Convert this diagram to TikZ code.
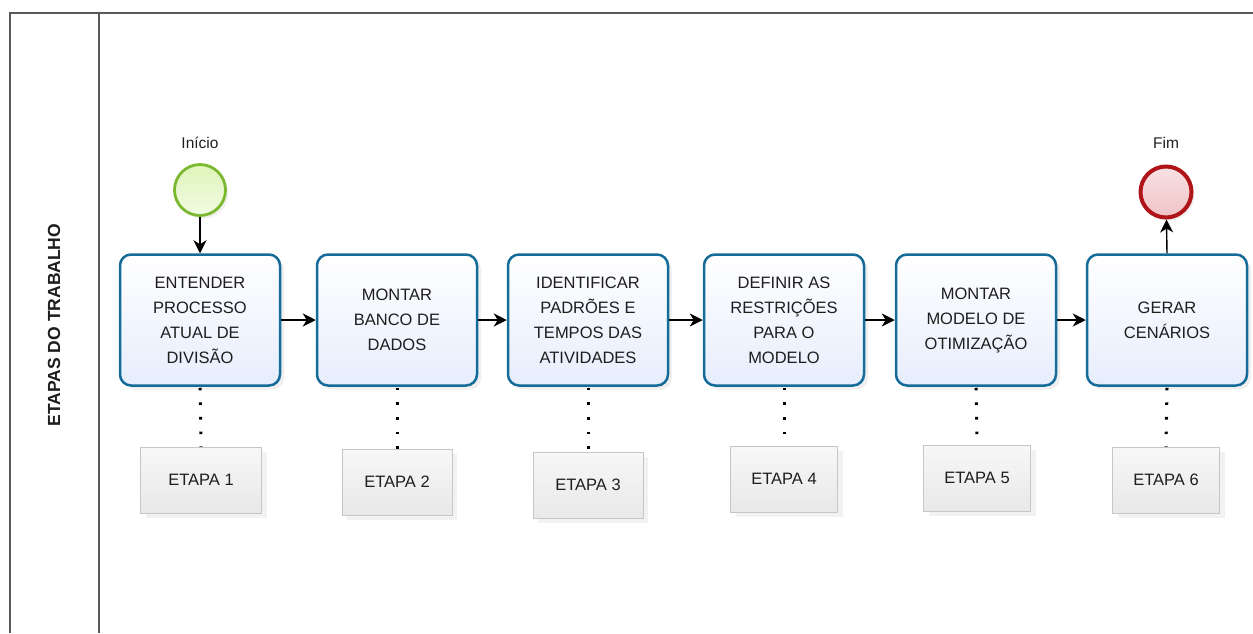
\documentclass[tikz,border=0pt]{standalone}
\usepackage{fontspec}
\setmainfont{Liberation Sans}
\usetikzlibrary{shadows,arrows.meta}
\definecolor{bordaazul}{RGB}{22,108,152}
\definecolor{fundoazul}{RGB}{230,237,252}
\definecolor{bordaverde}{RGB}{122,184,48}
\definecolor{fundoverde}{RGB}{222,245,185}
\definecolor{bordavermelha}{RGB}{175,20,25}
\definecolor{fundovermelho}{RGB}{240,195,198}
\definecolor{texto}{RGB}{30,30,30}
\begin{document}
\begin{tikzpicture}[x=1pt,y=-1pt,>={Stealth[length=13pt,width=13pt,inset=4pt]},
		tarefa/.style={draw=bordaazul,line width=2.5pt,rounded corners=11pt,minimum width=160pt,minimum height=131pt,inner sep=0pt,top color=white,bottom color=fundoazul,align=center,text=texto,font=\fontsize{16.5}{25}\selectfont,drop shadow={opacity=0.12,shadow xshift=4pt,shadow yshift=-4pt}},
		etapa/.style={draw=gray!45,line width=0.8pt,minimum height=66pt,inner sep=0pt,top color=gray!6,bottom color=gray!18,text=texto,font=\fontsize{16.5}{18}\selectfont,drop shadow={opacity=0.1,shadow xshift=5pt,shadow yshift=-5pt}},
		evento/.style={circle,minimum size=51pt,inner sep=0pt,drop shadow={opacity=0.12,shadow xshift=3pt,shadow yshift=-3pt}},
		rotulo/.style={text=texto,font=\fontsize{15.5}{17}\selectfont},
		fluxo/.style={->,line width=1.4pt},
		ponteado/.style={line width=3pt,dash pattern=on 2.6pt off 12pt}]
	\useasboundingbox (0,0) rectangle (1253,633);
	\draw[gray!70!black,line width=2pt] (1253,13)--(10,13)--(10,633);
	\draw[gray!70!black,line width=2pt] (99,13)--(99,633);
	\node[rotate=90,font=\bfseries\fontsize{17.5}{19}\selectfont,text=texto] (raia) at (54,325) {ETAPAS DO TRABALHO};
	\node[evento,draw=bordaverde,line width=2.8pt,top color=fundoverde,bottom color=fundoverde!40] (inicio) at (200,190) {};
	\node[rotulo] at (200,143) {Início};
	\node[evento,draw=bordavermelha,line width=4pt,top color=fundovermelho!50,bottom color=fundovermelho] (fim) at (1166,192) {};
	\node[rotulo] at (1166,143) {Fim};
	\node[tarefa] (t1) at (200,320) {ENTENDER\\PROCESSO\\ATUAL DE\\DIVISÃO};
	\node[tarefa] (t2) at (397,320) {MONTAR\\BANCO DE\\DADOS};
	\node[tarefa] (t3) at (588,320) {IDENTIFICAR\\PADRÕES E\\TEMPOS DAS\\ATIVIDADES};
	\node[tarefa] (t4) at (784,320) {DEFINIR AS\\RESTRIÇÕES\\PARA O\\MODELO};
	\node[tarefa] (t5) at (976,320) {MONTAR\\MODELO DE\\OTIMIZAÇÃO};
	\node[tarefa] (t6) at (1167,320) {GERAR\\CENÁRIOS};
	\node[etapa,minimum width=121pt] (e1) at (201,480) {ETAPA 1};
	\node[etapa,minimum width=110pt] (e2) at (397,482) {ETAPA 2};
	\node[etapa,minimum width=110pt] (e3) at (588,485) {ETAPA 3};
	\node[etapa,minimum width=107pt] (e4) at (784,479) {ETAPA 4};
	\node[etapa,minimum width=107pt] (e5) at (977,478) {ETAPA 5};
	\node[etapa,minimum width=107pt] (e6) at (1166,480) {ETAPA 6};
	\draw[fluxo] (inicio) -- (t1);
	\draw[fluxo] (t1) -- (t2);
	\draw[fluxo] (t2) -- (t3);
	\draw[fluxo] (t3) -- (t4);
	\draw[fluxo] (t4) -- (t5);
	\draw[fluxo] (t5) -- (t6);
	\draw[fluxo] (t6.north) -- (fim);
	\foreach \i in {1,...,6}
		\draw[ponteado] ([yshift=-1pt]t\i.south) -- (e\i.north);
\end{tikzpicture}
\end{document}
